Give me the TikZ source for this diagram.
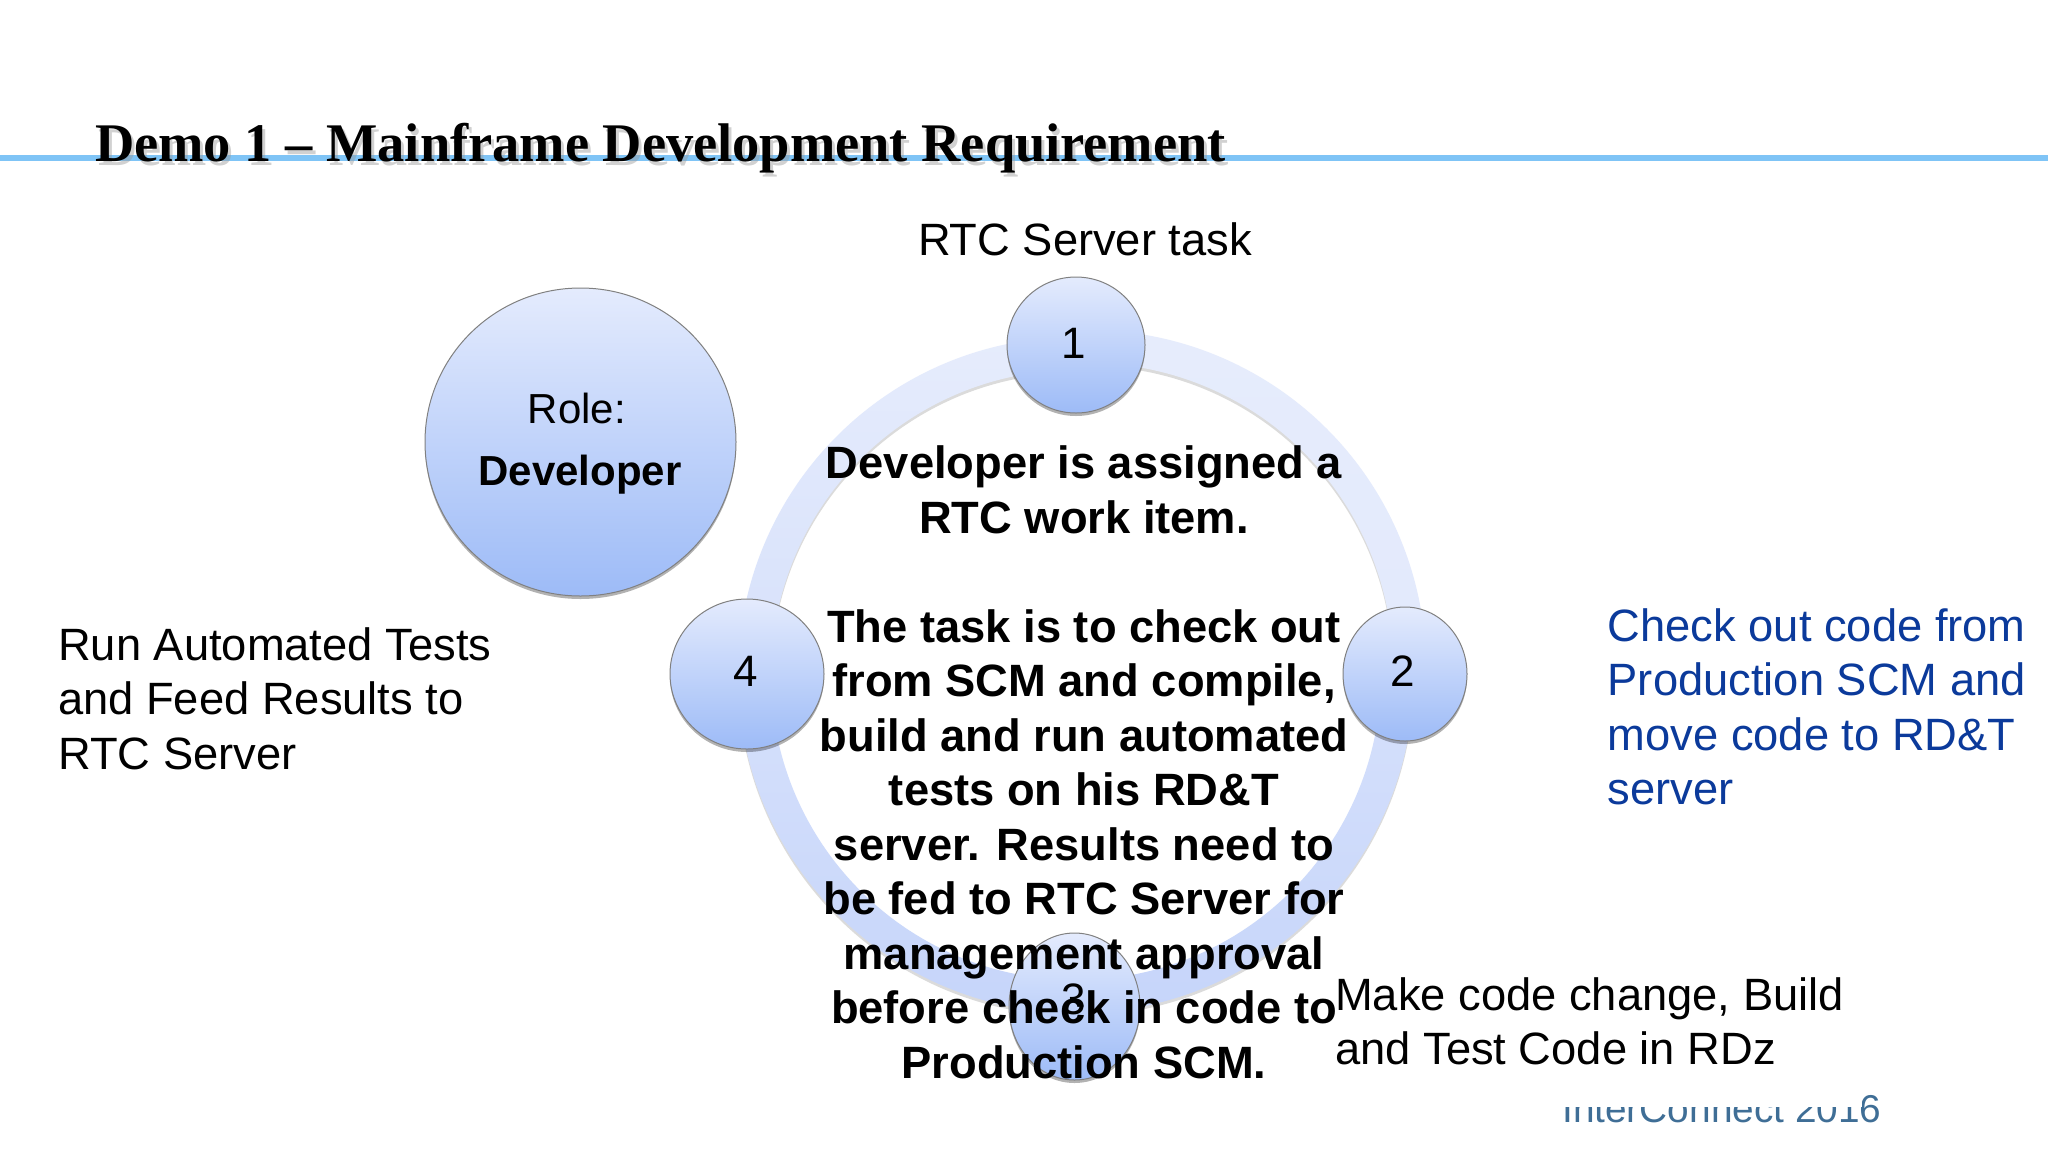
\documentclass[tikz,border=0pt]{standalone}
\usepackage{fontspec}
\setmainfont{Liberation Sans}
\newfontfamily\titlefont{Liberation Serif}
\usetikzlibrary{shapes.geometric,shadows}
\definecolor{ruleblue}{HTML}{7FC4F6}
\definecolor{linkblue}{HTML}{0B3A9B}
\definecolor{footblue}{HTML}{3F6E96}
\definecolor{ballTop}{HTML}{E4EBFD}
\definecolor{ballBot}{HTML}{9DBBF7}
\definecolor{ringTop}{HTML}{E6ECFC}
\definecolor{ringBot}{HTML}{C6D5FA}
\tikzset{
  x=1pt,y=-1pt,
  ball/.style={ellipse,inner sep=0pt,top color=ballTop,bottom color=ballBot,draw=black!50,line width=1pt,
     drop shadow={shadow xshift=0pt,shadow yshift=-3pt,opacity=.3,fill=black}},
  plainline/.style={inner sep=0pt,align=left,font=\fontsize{45.3}{54.5}\selectfont},
  bodytext/.style={inner sep=0pt,align=center,font=\fontsize{45.3}{54.5}\selectfont\bfseries},
  digit/.style={font=\fontsize{44}{50}\selectfont,inner sep=0pt},
}
% centre x, centre y, start angle, end angle (y axis points down, so angles run clockwise on the page)
\newcommand{\sector}[4]{([shift={(#3:338)}]#1,#2)arc[start angle=#3,end angle=#4,radius=338]--([shift={(#4:305)}]#1,#2)arc[start angle=#4,end angle=#3,radius=305]--cycle}
\begin{document}
\begin{tikzpicture}
\useasboundingbox (0,0) rectangle (2048,1152);
\fill[white] (0,0) rectangle (2048,1152);
% rule
\fill[ruleblue] (0,155) rectangle (2048,161);
% title
\node[anchor=base west,inner sep=0pt,text=black!40,opacity=.45] (titleshadow) at (98,165) {\titlefont\bfseries\fontsize{54.4}{60}\selectfont Demo 1 – Mainframe Development Requirement};
\node[anchor=base west,inner sep=0pt] (title) at (95,161) {\titlefont\bfseries\fontsize{54.4}{60}\selectfont Demo 1 – Mainframe Development Requirement};
% ring shadow
\fill[black,opacity=.14] \sector{1076}{678}{0}{270};
\fill[black,opacity=.14] \sector{1088}{671}{-90}{5};
% ring
\shade[top color=ringTop,bottom color=ringBot] \sector{1076}{675}{0}{270};
\shade[top color=ringTop,bottom color=ringTop!88!ringBot] \sector{1088}{668}{-90}{5};
% balls
\node[ball,minimum width=138pt,minimum height=136pt] (n1) at (1076,345) {};
\node[ball,minimum width=124pt,minimum height=134pt] (n2) at (1405,674) {};
\node[ball,minimum width=131pt,minimum height=147pt] (n3) at (1074.5,1006.5) {};
\node[ball,minimum width=154pt,minimum height=150pt] (n4) at (747,674) {};
\node[ball,minimum width=311pt,minimum height=308pt] (role) at (580.5,442) {};
\node[digit] (d1) at (1074,343) {1};
\node[digit] (d2) at (1403,671) {2};
\node[digit] (d3) at (1074,999) {3};
\node[digit] (d4) at (746,671) {4};
\node[inner sep=0pt,font=\fontsize{42}{50}\selectfont] (rolea) at (577,408) {Role:};
\node[inner sep=0pt,font=\fontsize{42}{50}\selectfont\bfseries] (roleb) at (580,475) {Developer};
% texts
\node[inner sep=0pt,font=\fontsize{45.3}{50}\selectfont] (rtc) at (1085,239) {RTC Server task};
\node[plainline,anchor=north west] (left) at (58,627) {Run Automated Tests\\and Feed Results to\\RTC Server};
\node[plainline,anchor=north west,text=linkblue] (right) at (1607.5,608) {Check out code from\\Production SCM and\\move code to RD\&T\\server};
\node[plainline,anchor=north west] (make) at (1335,977) {Make code change, Build\\and Test Code in RDz};
\node[bodytext,anchor=north] (body) at (1084,445.5) {Developer is assigned a\\RTC work item.\\\mbox{}\\The task is to check out\\from SCM and compile,\\build and run automated\\tests on his RD\&T\\server. Results need to\\be fed to RTC Server for\\management approval\\before check in code to\\Production SCM.};
% footer (upper part hidden, as in the reference)
\begin{scope}
\clip (1550,1107) rectangle (1900,1135) (1862,1092) rectangle (1900,1135);
\node[anchor=base west,inner sep=0pt,text=footblue,font=\fontsize{38.8}{44}\selectfont] (foot) at (1562,1122) {InterConnect 2016};
\end{scope}
\end{tikzpicture}
\end{document}
